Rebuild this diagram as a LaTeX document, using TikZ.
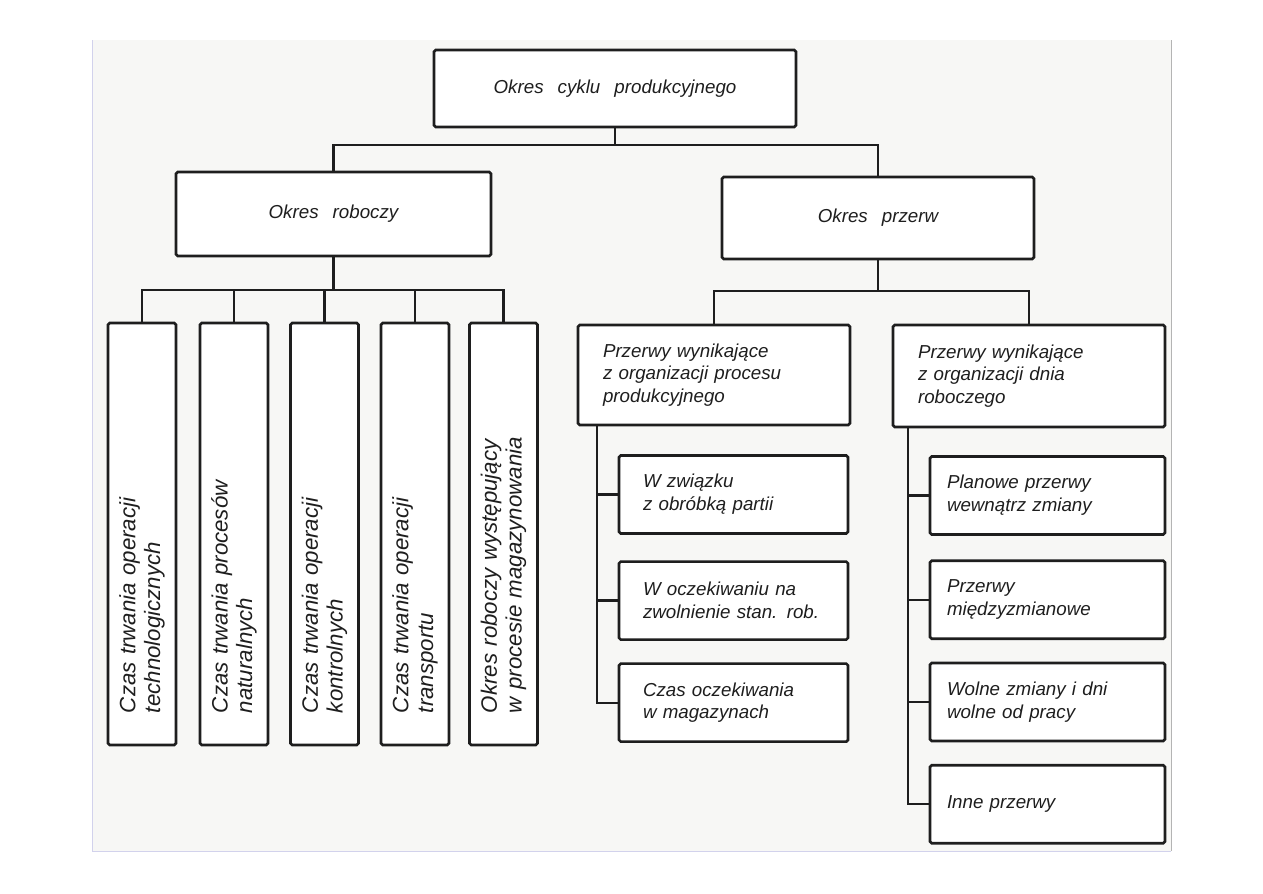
\documentclass[tikz,border=0pt]{standalone}
\usepackage{fontspec}
\setmainfont{Liberation Sans}
\usetikzlibrary{positioning}
\definecolor{ink}{HTML}{1E1E1E}
\definecolor{paper}{HTML}{F7F7F5}
\definecolor{edgel}{HTML}{D2D2EC}
\definecolor{edger}{HTML}{B4B4B4}
\tikzset{
  cbox/.style={
    rectangle, draw=ink, line width=2.2pt, rounded corners=1.5pt,
    fill=white, text=ink,
    font={\fontsize{16}{19.5}\selectfont\itshape\spaceskip=0.75em\relax},
    align=center, inner sep=0pt
  },
  lbox/.style={cbox, align=left},
  asub/.style={lbox, minimum width=6.87cm, minimum height=2.34cm, text width=5.43cm},
  bsub/.style={lbox, minimum width=7.05cm, minimum height=2.34cm, text width=6.03cm},
  vcol/.style={
    cbox, rotate=90, align=left,
    minimum width=12.66cm, minimum height=2.04cm, text width=10.74cm,
    font={\fontsize{19}{21}\selectfont\itshape\spaceskip=0.8em\relax}
  },
  conn/.style={draw=ink, line width=1.9pt}
}

\begin{document}
\begin{tikzpicture}[x=0.03cm, y=-0.03cm]
\useasboundingbox (0,0) rectangle (1263,893);

% ── Scanned sheet ─────────────────────────────────────────────────
\fill[paper] (92,40) rectangle (1171,851);
\draw[edgel, line width=0.6pt] (92,40) -- (92,851) -- (1171,851);
\draw[edger, line width=0.6pt] (1171,851) -- (1171,40);

% ── Top levels ────────────────────────────────────────────────────
\node[cbox, minimum width=10.86cm, minimum height=2.31cm] (top)
  at (615,88.5) {Okres cyklu produkcyjnego};
\node[cbox, minimum width=9.45cm, minimum height=2.52cm] (rob)
  at (333.5,214) {Okres roboczy};
\node[cbox, minimum width=9.36cm, minimum height=2.46cm] (prz)
  at (878,218) {Okres przerw};

% ── Working time: vertical columns ────────────────────────────────
\foreach \x/\txt [count=\i] in {
    142/{Czas trwania operacji\\technologicznych},
    234/{Czas trwania procesów\\naturalnych},
    324.5/{Czas trwania operacji\\kontrolnych},
    415/{Czas trwania operacji\\transportu},
    503.5/{Okres roboczy występujący\\w procesie magazynowania}}{
  \node[vcol] (v\i) at (\x,534) {\txt};
}

% ── Break groups ──────────────────────────────────────────────────
\node[lbox, minimum width=8.16cm, minimum height=3.0cm, text width=6.66cm]
  (pa) at (714,375)
  {Przerwy wynikające\\z organizacji procesu\\produkcyjnego};
\node[lbox, minimum width=8.16cm, minimum height=3.06cm, text width=6.66cm]
  (pb) at (1029,376)
  {Przerwy wynikające\\z organizacji dnia\\roboczego};

\node[asub] (a1) at (733.5,494.5) {W związku\\z obróbką partii};
\node[asub, below=0.765cm of a1] (a2) {W oczekiwaniu na\\zwolnienie stan. rob.};
\node[asub, below=0.645cm of a2] (a3) {Czas oczekiwania\\w magazynach};

\node[bsub] (b1) at (1047.5,495.5) {Planowe przerwy\\wewnątrz zmiany};
\node[bsub, below=0.71cm of b1] (b2) {Przerwy\\międzyzmianowe};
\node[bsub, below=0.65cm of b2] (b3) {Wolne zmiany i dni\\wolne od pracy};
\node[bsub, below=0.65cm of b3] (b4) {Inne przerwy};

% ── Connectors ────────────────────────────────────────────────────
\coordinate (j0) at (top.south |- 0,145);
\draw[conn] (top.south) -- (j0);
\draw[conn] (rob.north) |- (j0) -| (prz.north);

% east of a rotated column is its top side
\coordinate (j1) at (rob.south |- 0,290);
\draw[conn] (rob.south) -- (j1);
\foreach \i in {1,...,5}
  \draw[conn] (v\i.east) |- (j1);

\coordinate (j2) at (prz.south |- 0,291);
\draw[conn] (prz.south) -- (j2);
\draw[conn] (pa.north) |- (j2) -| (pb.north);

\coordinate (sa) at (597,0 |- pa.south);
\draw[conn] (sa) |- (a3.west);
\foreach \n in {a1,a2}
  \draw[conn] (\n.west) -- (\n.west -| sa);

\coordinate (sb) at (908,0 |- pb.south);
\draw[conn] (sb) |- (b4.west);
\foreach \n in {b1,b2,b3}
  \draw[conn] (\n.west) -- (\n.west -| sb);

\end{tikzpicture}
\end{document}
